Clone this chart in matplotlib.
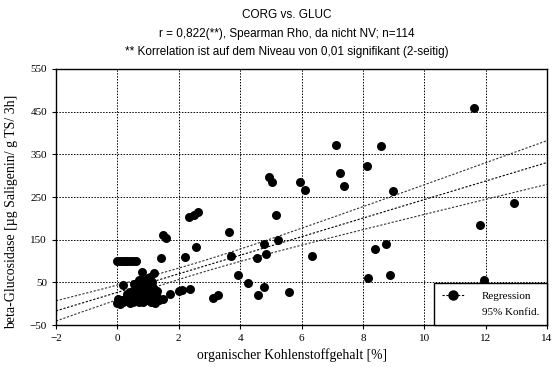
import numpy as np
import matplotlib
matplotlib.use('Agg')
import matplotlib.pyplot as plt
from matplotlib.lines import Line2D

# organischer Kohlenstoffgehalt [%]
corg = [11.63, 12.94, 11.8, 11.96, 7.12, 8.59, 8.14, 7.26, 7.37, 6.13,
        5.95, 8.99, 6.34, 8.75, 8.38, 8.17, 8.88, 4.94, 5.04, 5.16,
        3.64, 4.78, 5.23, 3.71, 4.83, 4.55, 3.92, 4.25, 4.77, 4.59,
        5.59, 3.13, 3.28, 2.35, 2.49, 2.64, 2.57, 2.2, 1.41, 1.48,
        1.57, 2.36, 2.11, 2.0, 1.73, 1.49,
        0.0, 0.08, 0.17, 0.25, 0.33, 0.42, 0.5, 0.6,
        0.0, 0.05, 0.1, 0.15, 0.2, 0.25, 0.3, 0.35, 0.4, 0.42,
        0.45, 0.5, 0.52, 0.55, 0.6, 0.62, 0.65, 0.7, 0.72, 0.75,
        0.78, 0.8, 0.82, 0.85, 0.88, 0.9, 0.92, 0.95, 0.98, 1.0,
        1.02, 1.05, 1.08, 1.1, 1.12, 1.15, 1.18, 1.2, 1.22, 1.25,
        1.3, 1.35, 0.81, 1.19, 0.19, 0.7, 0.97, 0.6, 0.4, 0.55,
        0.9, 1.05, 0.3, 0.68, 1.28, 0.02, 0.48, 0.86, 1.14, 0.64]
# beta-Glucosidase [µg Saligenin/ g TS/ 3h]
gluc = [458, 236, 185, 56, 372, 369, 323, 307, 276, 266,
        285, 265, 112, 140, 127, 60, 68, 298, 285, 208,
        169, 140, 149, 111, 116, 106, 68, 48, 38, 21,
        27, 13, 20, 204, 208, 216, 134, 110, 108, 160,
        155, 35, 33, 30, 22, 10,
        100, 100, 100, 100, 100, 100, 100, 100,
        2, 5, 0, 8, 3, 12, 6, 15, 2, 20,
        10, 4, 25, 14, 8, 30, 18, 5, 40, 22,
        12, 55, 28, 3, 35, 18, 48, 8, 25, 60,
        40, 15, 5, 30, 50, 20, 10, 35, 2, 25,
        15, 8, 75, 71, 44, 55, 52, 38, 28, 45,
        10, 62, 22, 16, 30, 10, 6, 20, 42, 12]

titel = ['CORG vs. GLUC',
         'r = 0,822(**), Spearman Rho, da nicht NV; n=114',
         '** Korrelation ist auf dem Niveau von 0,01 signifikant (2-seitig)']

x = np.array(corg)
y = np.array(gluc)

# lineare Regression + 95% Konfidenzband
b, a = np.polyfit(x, y, 1)
n = len(x)
res = y - (a + b * x)
s = np.sqrt(np.sum(res ** 2) / (n - 2))
xm = x.mean()
sxx = np.sum((x - xm) ** 2)
xx = np.linspace(-2, 14, 100)
yy = a + b * xx
hw = 1.98 * s * np.sqrt(1 / n + (xx - xm) ** 2 / sxx)

fig = plt.figure(figsize=(5.52, 3.67), dpi=100)
ax = fig.add_axes([0.1014, 0.1144, 0.8896, 0.6976])

ax.scatter(x, y, s=42, color='black', zorder=3, linewidths=0)
ax.plot(xx, yy, color='black', ls=(0, (2, 1.5)), lw=0.8, zorder=2)
ax.plot(xx, yy + hw, color='#333333', ls=(0, (2, 1.5)), lw=0.8, zorder=2)
ax.plot(xx, yy - hw, color='#333333', ls=(0, (2, 1.5)), lw=0.8, zorder=2)

ax.set_xlim(-2, 14)
ax.set_ylim(-50, 550)
ax.set_xticks(range(-2, 15, 2))
ax.set_yticks(range(-50, 551, 100))
ax.grid(True, color='black', ls=(0, (1.5, 1.5)), lw=0.7)
ax.set_axisbelow(True)
for sp in ax.spines.values():
    sp.set_linewidth(1.0)
ax.tick_params(direction='out', length=3, width=0.8, labelsize=8)
for lab in ax.get_xticklabels() + ax.get_yticklabels():
    lab.set_fontfamily('Liberation Serif')

ax.set_xlabel('organischer Kohlenstoffgehalt [%]', family='Liberation Serif', fontsize=9.8)
ax.xaxis.set_label_coords(0.48, -0.09)
ax.set_ylabel('beta-Glucosidase [µg Saligenin/ g TS/ 3h]', family='Liberation Serif', fontsize=10)
ax.yaxis.set_label_coords(-0.077, 0.44)

for i, t in enumerate(titel):
    fig.text(0.52, 0.958 - i * 0.05, t, ha='center', va='center', family='Liberation Sans', fontsize=8.5)

h1 = Line2D([], [], color='black', ls=(0, (2, 1.5)), lw=0.8, marker='o', markersize=6.5)
h2 = Line2D([], [], color='none')
leg = ax.legend([h1, h2], ['Regression', '95% Konfid.'], loc='lower right', borderaxespad=0,
                fancybox=False, edgecolor='black', framealpha=1, handlelength=2.0,
                prop={'family': 'Liberation Serif', 'size': 8}, labelspacing=0.6,
                borderpad=0.7, handletextpad=1.6)
leg.get_frame().set_linewidth(1.0)

fig.savefig('out.png', dpi=100)
